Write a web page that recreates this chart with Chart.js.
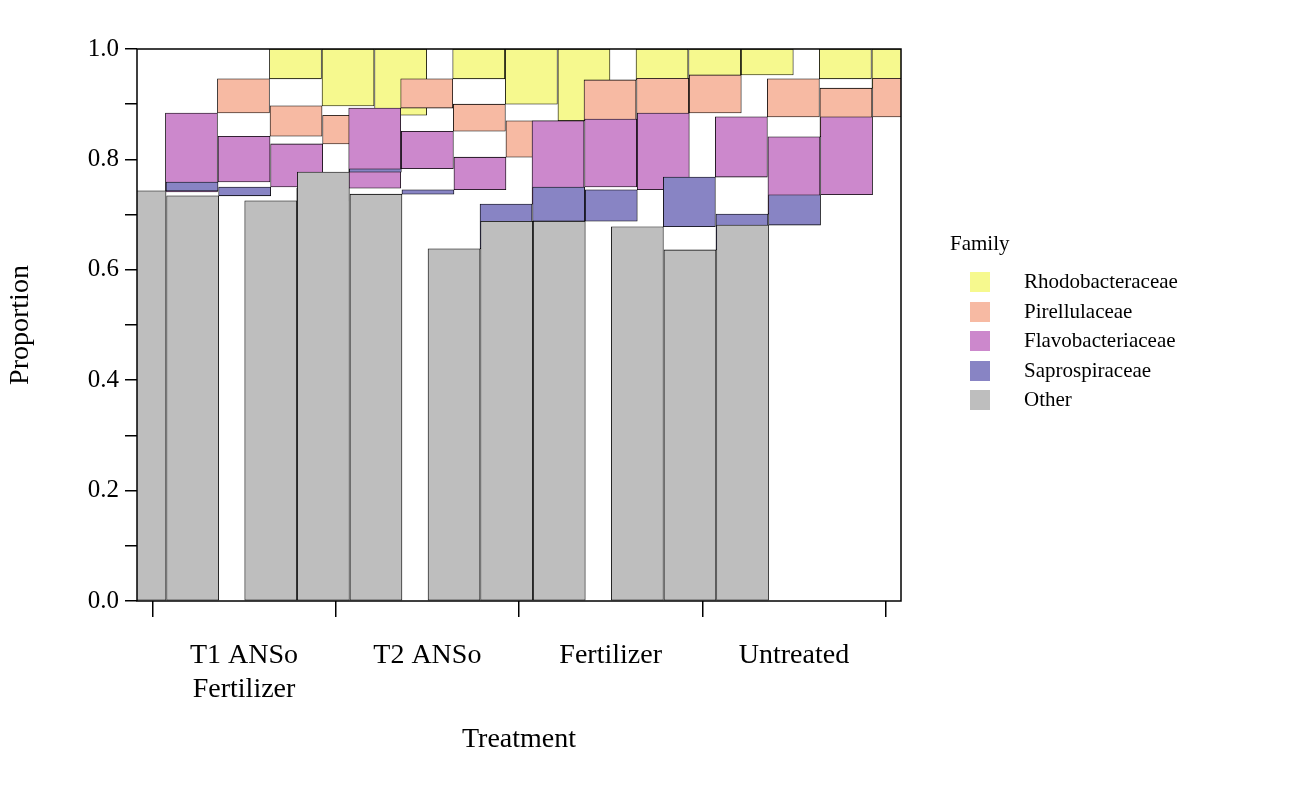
<!DOCTYPE html>
<html><head><meta charset="utf-8">
<script src="https://cdn.jsdelivr.net/npm/chart.js@4"></script>
<style>body{margin:0;background:#fff;font-family:"Liberation Serif",serif}
#wrap{position:relative;width:1300px;height:800px}
.lg{position:absolute;font-size:21px;color:#000}
.bx{position:absolute;width:20px;height:20px}</style></head>
<body><div id="wrap"><canvas id="c" width="1300" height="800"></canvas></div>
<script>
const groups=[["T1 ANSo","Fertilizer"],"T2 ANSo","Fertilizer","Untreated"];
const xpos=[0.713,1,1.287,1.713,2,2.287,2.713,3,3.287,3.713,4,4.287];
const families=["Other","Saprospiraceae","Flavobacteriaceae","Pirellulaceae","Rhodobacteraceae"];
const colors=["#bebebe","#8884c4","#cc88cc","#f7baa3","#f6f98e"];
const other=[0.640,0.743,0.734,0.725,0.777,0.737,0.638,0.688,0.688,0.678,0.636,0.681];
const sapro=[0.101,0.016,0.016,0.023,0.006,0.008,0.081,0.062,0.057,0.090,0.065,0.055];
const flavo=[0.143,0.083,0.078,0.145,0.068,0.059,0.151,0.123,0.139,0.109,0.140,0.141];
const pirell=[0.062,0.055,0.052,0.053,0.049,0.066,0.074,0.074,0.069,0.069,0.088,0.070];
const rhodo=[0.054,0.103,0.120,0.054,0.100,0.130,0.056,0.053,0.047,0.054,0.071,0.053];
const series=[other,sapro,flavo,pirell,rhodo];
const F="Liberation Serif";
const box={id:'box',afterDraw(c){const a=c.chartArea,x=c.ctx;x.save();x.strokeStyle='#000';x.lineWidth=1.5;x.strokeRect(a.left,a.top,a.right-a.left,a.bottom-a.top);x.restore();}};
new Chart(document.getElementById('c'),{type:'bar',
data:{datasets:series.map((s,i)=>({label:families[i],data:s.map((v,j)=>({x:xpos[j],y:v})),backgroundColor:colors[i],borderColor:'#000',borderWidth:0.8,barThickness:52,borderSkipped:false}))},
options:{responsive:false,animation:false,layout:{padding:{right:399,top:49,bottom:40}},
plugins:{legend:{display:false},tooltip:{enabled:false}},
scales:{
x:{type:'linear',offset:false,min:0.416,max:4.584,afterBuildTicks(s){s.ticks=[1,2,3,4].map(v=>({value:v}));},
 afterFit(s){s.height=159;},
 grid:{drawOnChartArea:false,tickLength:16,color:'#000',lineWidth:1.5},border:{display:false},
 ticks:{callback:v=>groups[v-1],font:{family:F,size:28},color:'#000',padding:22},
 title:{display:true,text:'Treatment',font:{family:F,size:28},color:'#000',padding:{top:4}}},
y:{stacked:true,min:0,max:1,afterFit(s){s.width=137;},
 afterBuildTicks(s){s.ticks=[0,.1,.2,.3,.4,.5,.6,.7,.8,.9,1].map(v=>({value:v}));},
 grid:{drawOnChartArea:false,tickLength:12,color:'#000',lineWidth:1.5},border:{display:false},
 ticks:{callback:(v)=>Math.round(v*10)%2===0?v.toFixed(1):'',font:{family:F,size:25},color:'#000',padding:6},
 title:{display:true,text:'Proportion',font:{family:F,size:28},color:'#000',padding:{bottom:4}}}}},
plugins:[box]});
const w=document.getElementById('wrap');
let t=document.createElement('div');t.className='lg';t.style.left='950px';t.style.top='231px';t.textContent='Family';w.appendChild(t);
const order=[4,3,2,1,0];
order.forEach((k,i)=>{const y=272+i*29.5;
 let b=document.createElement('div');b.className='bx';b.style.left='970px';b.style.top=y+'px';b.style.background=colors[k];w.appendChild(b);
 let l=document.createElement('div');l.className='lg';l.style.left='1024px';l.style.top=(y-3)+'px';l.textContent=families[k];w.appendChild(l);});
</script></body></html>
